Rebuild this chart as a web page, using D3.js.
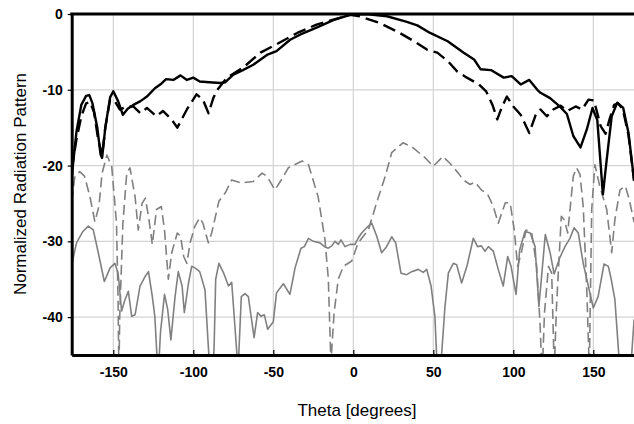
<!DOCTYPE html>
<html>
<head>
<meta charset="utf-8">
<script src="https://cdn.jsdelivr.net/npm/d3@7"></script>
<style>
  body { margin: 0; background: #fff; }
  svg { display: block; font-family: "Liberation Sans", Arial, sans-serif; }
</style>
</head>
<body>
<svg id="chart" width="634" height="424"></svg>
<script>
// tick values
let xTicks = [-150, -100, -50, 0, 50, 100, 150]
let yTicks = [0, -10, -20, -30, -40]

// co-pol, solid black
let coSolidTheta = [-176, -173, -170, -167, -165, -163, -160, -158, -157, -155, -152, -150, -147, -144, -141, -137.5, -133, -129, -124, -120, -117, -112.5, -108, -104, -100, -96, -90, -83, -80, -75, -69, -62.5, -54, -48, -39.5, -33, -23, -12.5, -2, 8, 21, 33, 40, 48, 59, 69, 75.5, 79.6, 86, 94, 99, 104.6, 110, 115, 117, 123, 129, 133.5, 137.5, 142, 146, 149.5, 152.5, 156, 158.4, 161.5, 165, 168.7, 172, 175.5]
let coSolidDb = [-21.5, -15.5, -12, -10.8, -10.7, -11.8, -15, -18.5, -19, -15, -11, -10.2, -11.5, -13.3, -12.5, -12, -11.5, -10.9, -9.8, -9.2, -8.6, -8.7, -8.1, -8.7, -8.4, -8.9, -9.0, -9.1, -9.0, -8.0, -7.4, -6.7, -5.4, -4.9, -3.4, -2.7, -1.8, -0.8, -0.1, 0, -0.3, -1.0, -1.5, -2.5, -3.6, -5.1, -6.0, -7.3, -7.4, -8.4, -8.2, -9.3, -8.7, -10.0, -10.4, -11.1, -12.2, -13.2, -16.1, -17.6, -15.2, -12.4, -14, -23.8, -19.2, -13.5, -11.7, -12.4, -15.7, -22]

// co-pol, dashed black
let coDashTheta = [-176, -173, -170, -167, -164.5, -162, -159.5, -157, -155, -152, -149, -146, -141, -137.5, -133, -129, -123, -119, -114, -110, -104, -98, -94, -90.5, -87.5, -85, -79, -69, -58, -48, -35, -23, -12.5, -2, 4, 16.7, 29, 38, 46, 52.5, 59, 65, 71, 78.6, 83, 87, 90, 93, 96, 100, 104.6, 110, 114, 117, 121, 125, 129.6, 133.7, 139, 143, 147, 150.4, 154.6, 157.7, 160, 163, 165.5, 168.5, 172, 175.5]
let coDashDb = [-20.5, -16.5, -13.5, -11.8, -11.6, -13, -16.5, -18.7, -15, -11.3, -11.5, -12.6, -12.2, -12.2, -13.1, -12.4, -13.5, -12.8, -13.8, -15.0, -12.6, -10.6, -11.3, -13.1, -11.1, -10, -8.4, -7.1, -5.1, -4.0, -2.5, -1.4, -0.75, -0.1, -0.3, -1.2, -2.5, -3.6, -4.7, -5.1, -6.2, -7.6, -8.4, -9.3, -10.2, -12, -13.9, -12.2, -10.9, -12.2, -13.3, -15.7, -13.3, -12.6, -13.5, -12.6, -12.1, -12.8, -12.2, -12.6, -11.3, -11.4, -14.8, -15.8, -14, -12, -11.8, -12.6, -16, -22]

// cross-pol, dashed grey
let xDashTheta = [-176, -174, -171, -168, -164.6, -161.5, -159, -157, -154, -151, -148, -147, -146.5, -146, -144, -141.6, -139.6, -136.4, -134.4, -132, -130, -128, -125.6, -123, -120, -118, -115.6, -113.5, -110, -108, -106, -104, -102, -99, -96, -94, -90.6, -88.5, -84, -80, -76, -70, -62.5, -57, -54, -49, -45, -40.6, -32, -28, -22, -17.7, -15.6, -14, -12, -9.4, -6.2, -1, 3, 9.4, 14.6, 20, 24, 31, 36.5, 45, 50, 56, 60.4, 65.6, 68.8, 73, 76, 80, 84, 87.5, 90.6, 95, 98, 100.6, 102.7, 105, 108, 111.5, 114.6, 116.7, 118, 119.5, 122, 124, 125.6, 127, 130, 132, 134, 137.5, 139.6, 141.7, 143.7, 146, 147.5, 149, 151, 154, 158.4, 161.5, 163.5, 166.7, 170, 172.5, 175.5]
let xDashDb = [-24.7, -21.4, -20.8, -21.4, -24.1, -27.4, -25.4, -21, -18.6, -20.1, -27.6, -38, -48, -40, -27.6, -21, -20.3, -24.1, -28.5, -25, -24.3, -26.7, -30.4, -25.8, -25.4, -28.5, -35, -31.5, -28.9, -29.3, -32, -32.9, -30.2, -28, -26.9, -27.6, -30.2, -28.9, -24.7, -23.6, -21.9, -22.3, -22.1, -21, -21.4, -23.2, -21.9, -20.3, -19.4, -19.9, -24.1, -29.8, -35, -46, -39.4, -35, -33.3, -32.6, -30.2, -28.5, -24.9, -21.4, -18.3, -17, -17.5, -19, -20.1, -18.8, -19.7, -21, -21.9, -22.5, -22.2, -23.2, -23.8, -25.4, -27.6, -24.9, -24.9, -28.5, -33.3, -31.5, -28.5, -28.9, -33.3, -40.8, -48, -39.4, -33.3, -34.2, -47, -38.6, -26.7, -27.2, -28.9, -21.4, -20.3, -21.2, -25.4, -36.8, -47, -25.8, -19.9, -22.7, -25.8, -31.5, -27.1, -23.2, -22.7, -24.5, -27.5]

// cross-pol, solid grey
let xSolidTheta = [-176, -173, -169, -165.6, -162.5, -159.4, -155.6, -152, -149, -147, -144.8, -142.7, -140.6, -138.5, -136.4, -133.3, -130, -128, -125.6, -124, -122, -120.5, -118, -116, -114, -111.4, -109.4, -107, -105.6, -103, -101, -99, -96, -92.7, -90, -88.5, -87, -86, -84, -81, -78, -76, -74, -72, -70, -67.7, -65.6, -62, -59.8, -57.7, -55.6, -53.5, -50, -48, -43.7, -39.6, -36.4, -32.7, -30.6, -28, -25, -20.8, -18, -15.6, -13.5, -11.4, -9.4, -7.7, -5.2, -2, 1, 3, 5.2, 8.4, 11.5, 14.6, 17.7, 20.8, 24, 26.5, 29.8, 33.4, 36.5, 40.6, 43.7, 45.9, 48.6, 51, 52.5, 54.5, 57.3, 59.4, 62.5, 64.6, 67.7, 71, 75, 77.7, 80, 82.3, 84.4, 87.5, 90.6, 93.7, 96.5, 98.6, 101.7, 104, 107.3, 110.6, 113.6, 116, 120, 123, 125.5, 129, 132.3, 135.4, 138, 140.6, 143.7, 147, 150, 153, 156.7, 159.4, 161, 163.5, 165.6, 167, 173, 175.5]
let xSolidDb = [-33.1, -30.2, -28.7, -28, -28.5, -31.5, -35.3, -33.5, -32.9, -34.2, -39.2, -37.7, -36.6, -39.9, -39.7, -35.9, -34.6, -34, -37.3, -40, -48, -42, -37, -39, -43, -37.3, -34, -35.9, -39.4, -35.5, -33.3, -33.5, -34, -36.4, -46, -50, -44, -35, -32.9, -34.2, -35.9, -35.4, -41.2, -47, -37.3, -36.9, -37.3, -42.7, -39.4, -39.9, -39.7, -41.6, -40.6, -36.8, -35.6, -37, -33.5, -30.9, -30.7, -29.6, -30, -30.2, -30.7, -30.9, -30.6, -30, -30.4, -29.8, -30.7, -30.4, -30.4, -29.6, -28.9, -28.2, -27.6, -29.3, -31.5, -30.7, -29.4, -30.2, -34.2, -34.4, -34, -33.7, -34.1, -33.7, -35.9, -39.9, -47, -47, -38.6, -34.2, -32.9, -33.1, -35.5, -33.3, -29.6, -30.7, -30.6, -31.3, -30.7, -31.3, -33.7, -35.9, -32, -33.3, -37, -31.1, -28.7, -28.9, -30.7, -38.6, -29.1, -31.5, -34.3, -32.2, -30.7, -29.6, -28.2, -28.9, -32.9, -36, -38.8, -37.3, -33, -33.3, -34.8, -37.7, -44, -48, -48, -40.3]

let svg = d3.select('#chart')

let x = d3.scaleLinear().domain([-176, 176]).range([71.7, 634.9])
let y = d3.scaleLinear().domain([-45, 0]).range([355, 14])

// grid
let grid = svg.append('g')
grid.selectAll('.vg')
    .data(xTicks)
    .enter()
    .append('line')
    .attr('x1', (d) => x(d)).attr('x2', (d) => x(d))
    .attr('y1', y(0)).attr('y2', y(-45))
    .attr('stroke', '#d4d4d4').attr('stroke-width', 1.2)
grid.selectAll('.hg')
    .data(yTicks.filter((d) => d !== 0))
    .enter()
    .append('line')
    .attr('x1', x(-176)).attr('x2', 634)
    .attr('y1', (d) => y(d)).attr('y2', (d) => y(d))
    .attr('stroke', '#d4d4d4').attr('stroke-width', 1.2)

svg.append('clipPath').attr('id', 'plotclip')
   .append('rect')
   .attr('x', x(-176)).attr('y', y(0))
   .attr('width', x(176) - x(-176)).attr('height', y(-45) - y(0))

let line = d3.line()
    .x((d) => x(d[0]))
    .y((d) => y(d[1]))

let series = [
    {theta: xSolidTheta, db: xSolidDb, color: '#808080', width: 1.6, dash: null},
    {theta: xDashTheta, db: xDashDb, color: '#808080', width: 1.6, dash: '10,5'},
    {theta: coDashTheta, db: coDashDb, color: '#000', width: 2.4, dash: '13,6'},
    {theta: coSolidTheta, db: coSolidDb, color: '#000', width: 2.4, dash: null}
]

let plot = svg.append('g').attr('clip-path', 'url(#plotclip)')
series.forEach((s) => {
    let pts = s.theta.map((t, i) => [t, s.db[i]])
    plot.append('path')
        .datum(pts)
        .attr('d', line)
        .attr('fill', 'none')
        .attr('stroke', s.color)
        .attr('stroke-width', s.width)
        .attr('stroke-linejoin', 'round')
        .attr('stroke-dasharray', s.dash)
})

// axes, plain hyphen for the minus sign like the original
let fmt = (d) => String(d)

let xAxis = d3.axisBottom(x).tickValues(xTicks).tickFormat(fmt).tickSizeInner(-5).tickSizeOuter(0).tickPadding(12)
let gx = svg.append('g')
    .attr('transform', 'translate(0,' + y(-45) + ')')
    .call(xAxis)
gx.select('.domain').attr('stroke-width', 3)
gx.selectAll('.tick line').attr('stroke-width', 1.2)
gx.selectAll('text')
    .attr('font-size', 14).attr('font-weight', 'bold')
    .attr('font-family', '"Liberation Sans", Arial, sans-serif')
    .attr('fill', '#000')

let yAxis = d3.axisLeft(y).tickValues(yTicks).tickFormat(fmt).tickSizeInner(4).tickSizeOuter(0).tickPadding(5)
let gy = svg.append('g')
    .attr('transform', 'translate(' + x(-176) + ',0)')
    .call(yAxis)
gy.select('.domain').attr('stroke-width', 3)
gy.selectAll('.tick line').attr('stroke-width', 1.2)
gy.selectAll('text')
    .attr('font-size', 14).attr('font-weight', 'bold')
    .attr('font-family', '"Liberation Sans", Arial, sans-serif')
    .attr('fill', '#000')

// top border
svg.append('line')
    .attr('x1', x(-176) - 1.5).attr('x2', 634)
    .attr('y1', y(0)).attr('y2', y(0))
    .attr('stroke', '#000').attr('stroke-width', 3)

// titles
svg.append('text')
    .attr('x', 357).attr('y', 416)
    .attr('text-anchor', 'middle')
    .attr('font-size', 17)
    .text('Theta [degrees]')

svg.append('text')
    .attr('transform', 'translate(26,184) rotate(-90)')
    .attr('text-anchor', 'middle')
    .attr('font-size', 17)
    .text('Normalized Radiation Pattern')
</script>
</body>
</html>
